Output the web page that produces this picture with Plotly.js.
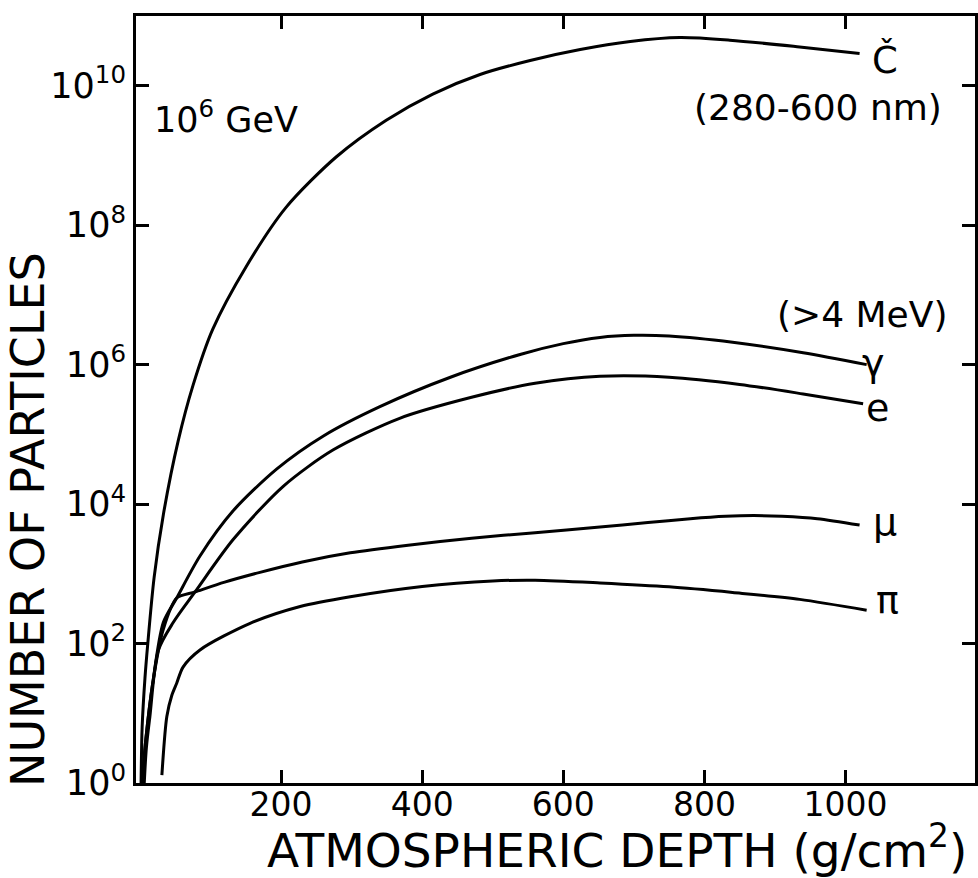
<!DOCTYPE html>
<html>
<head>
<meta charset="utf-8">
<script src="https://cdn.plot.ly/plotly-3.0.1.min.js"></script>
<style>html,body{margin:0;padding:0;background:#fff;}#chart{width:978px;height:878px;}</style>
</head>
<body>
<div id="chart"></div>
<script>
// Atmospheric depth (g/cm^2) and number of particles
const cherenkovDepth = [1.5, 3, 7, 11, 20, 33, 54, 75, 103, 150, 207, 278, 349, 415, 482, 553, 624, 695, 765, 836, 935, 1020];
const cherenkovCount = [1, 6.3, 32, 100, 890, 7e3, 8e4, 5e5, 3.2e6, 2.5e7, 1.8e8, 9.5e8, 3.2e9, 7.6e9, 1.45e10, 2.3e10, 3.3e10, 4.3e10, 4.9e10, 4.5e10, 3.6e10, 2.9e10];

const gammaDepth = [3, 8, 18, 33, 52, 85, 132, 194, 260, 340, 440, 540, 600, 652, 700, 750, 840, 940, 1030];
const gammaCount = [1, 4, 27, 200, 450, 1800, 8000, 3.2e4, 9.5e4, 2.5e5, 6.6e5, 1.41e6, 2e6, 2.45e6, 2.63e6, 2.57e6, 2.09e6, 1.48e6, 1e6];

const electronDepth = [6, 9, 14, 26, 47, 78, 132, 203, 274, 368, 470, 560, 652, 750, 850, 940, 1025];
const electronCount = [1, 3.2, 9, 80, 200, 550, 3100, 1.8e4, 6e4, 1.7e5, 3.4e5, 5.4e5, 6.8e5, 6.6e5, 5.2e5, 3.8e5, 2.75e5];

const muonDepth = [3, 8, 18, 33, 52, 78, 120, 170, 230, 298, 380, 470, 560, 652, 720, 780, 830, 870, 910, 960, 1020];
const muonCount = [1, 4, 27, 160, 450, 550, 760, 1050, 1480, 2000, 2570, 3240, 3890, 4680, 5430, 6170, 6680, 6840, 6680, 6170, 5000];

const pionDepth = [31, 38, 45, 52, 61, 85, 156, 227, 298, 400, 500, 560, 652, 750, 840, 935, 1030];
const pionCount = [1.3, 9, 18, 27, 46, 81, 195, 340, 470, 660, 790, 810, 740, 650, 540, 430, 300];

const xTickVals = [200, 400, 600, 800, 1000];
const xTickText = ['200', '400', '600', '800', '1000'];
const yTickVals = [1, 1e2, 1e4, 1e6, 1e8, 1e10];
const yTickText = ['10<sup>0</sup>', '10<sup>2</sup>', '10<sup>4</sup>', '10<sup>6</sup>', '10<sup>8</sup>', '10<sup>10</sup>'];

const FONT = '"DejaVu Sans", sans-serif';
const lineStyle = {color: '#000', width: 3, shape: 'spline', smoothing: 0.8};

function trace(x, y) {
  return {x: x, y: y, type: 'scatter', mode: 'lines', line: lineStyle, hoverinfo: 'skip', showlegend: false};
}

const data = [
  trace(cherenkovDepth, cherenkovCount),
  trace(gammaDepth, gammaCount),
  trace(electronDepth, electronCount),
  trace(muonDepth, muonCount),
  trace(pionDepth, pionCount)
];

function label(text, x, y, size, angle) {
  return {text: text, x: x, y: y, xref: 'paper', yref: 'paper', showarrow: false,
          textangle: angle || 0,
          xanchor: 'center', yanchor: 'middle', font: {family: FONT, size: size || 38, color: '#000'}};
}

// paper coords: plot area from px 136..975 (x), 16..783 (y)
function px(xp) { return (xp - 136) / 839; }
function py(yp) { return (783 - yp) / 767; }

const layout = {
  width: 978, height: 878,
  margin: {l: 136, r: 3, t: 16, b: 95},
  paper_bgcolor: '#fff', plot_bgcolor: '#fff',
  font: {family: FONT, color: '#000', size: 34},
  xaxis: {
    type: 'linear', range: [-5.7, 1183.6],
    tickvals: xTickVals, ticktext: xTickText,
    ticks: 'inside', ticklen: 13, tickwidth: 3, tickcolor: '#000',
    showline: true, linewidth: 3, linecolor: '#000', mirror: 'ticks',
    showgrid: false, zeroline: false, ticklabelstandoff: -10,
    tickfont: {family: FONT, size: 33, color: '#000'}
  },
  yaxis: {
    type: 'log', range: [0, 11.0],
    tickvals: yTickVals, ticktext: yTickText,
    ticks: 'inside', ticklen: 13, tickwidth: 3, tickcolor: '#000',
    showline: true, linewidth: 3, linecolor: '#000', mirror: 'ticks',
    showgrid: false, zeroline: false,
    tickfont: {family: FONT, size: 35, color: '#000'}
  },
  annotations: [
    label('ATMOSPHERIC DEPTH (g/cm<sup>2</sup>)', px(617), py(847), 47),
    label('NUMBER OF PARTICLES', px(28), py(520), 46, -90),
    label('10<sup>6</sup> GeV', px(226), py(117), 35),
    label('Č', px(885), py(60), 37),
    label('(280-600 nm)', px(818), py(107), 36),
    label('(>4 MeV)', px(862), py(315), 36),
    label('γ', px(873), py(363), 38),
    label('e', px(877), py(408), 38),
    label('μ', px(885), py(522), 38),
    label('π', px(887), py(600), 38)
  ]
};

Plotly.newPlot('chart', data, layout, {displayModeBar: false, staticPlot: true});
</script>
</body>
</html>
